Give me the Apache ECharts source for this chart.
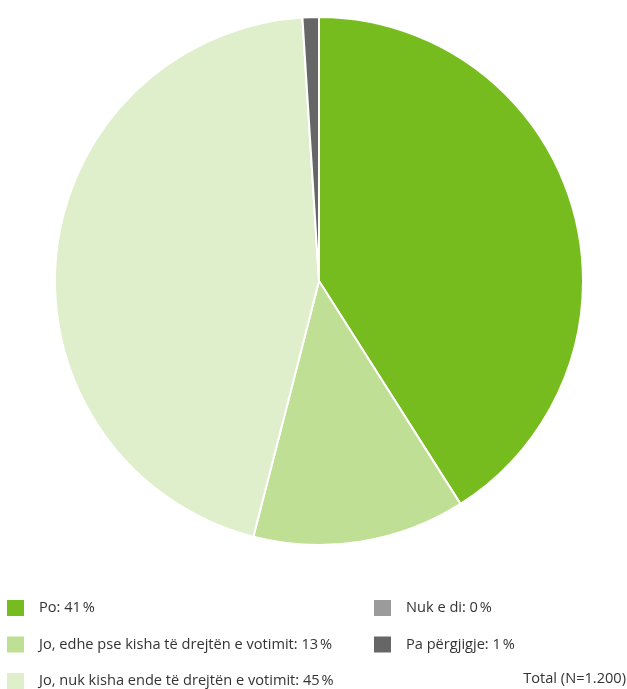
<!DOCTYPE html>
<html><head><meta charset="utf-8">
<script src="https://cdn.jsdelivr.net/npm/echarts@6/dist/echarts.min.js"></script>
<style>html,body{margin:0;padding:0;background:#fff}#c{width:627px;height:689px}</style>
</head><body><div id="c"></div>
<script>
const categories = ['Po', 'Jo, edhe pse kisha të drejtën e votimit', 'Jo, nuk kisha ende të drejtën e votimit', 'Nuk e di', 'Pa përgjigje'];
const values = [41, 13, 45, 0, 1];
const colors = ['#77BC1F', '#BEDF94', '#DFEECB', '#9B9B9B', '#666666'];
const totalLabel = 'Total (N=1.200)';

const data = categories.map((n, i) => ({ name: n, value: values[i], itemStyle: { color: colors[i] } }));
const valOf = {};
categories.forEach((n, i) => valOf[n] = values[i]);
const fmt = n => n + ': ' + valOf[n] + '\u202F%';
const legendText = { fontFamily: 'Open Sans', fontSize: 14.6, color: '#333', padding: [0, 0, 0, 9] };

const chart = echarts.init(document.getElementById('c'), null, { renderer: 'canvas' });
chart.setOption({
  animation: false,
  legend: [
    { data: categories.slice(0, 3), orient: 'vertical', left: 5, top: 598, height: 150, itemWidth: 19, itemHeight: 18, itemGap: 16.5, icon: 'rect', selectedMode: false, formatter: fmt, textStyle: legendText, padding: 0 },
    { data: categories.slice(3), orient: 'vertical', left: 372, top: 598, height: 150, itemWidth: 19, itemHeight: 18, itemGap: 16.5, icon: 'rect', selectedMode: false, formatter: fmt, textStyle: legendText, padding: 0 }
  ],
  graphic: [{ type: 'text', right: 1, top: 671, style: { text: totalLabel, fontFamily: 'Open Sans', fontSize: 14.6, fill: '#333' } }],
  series: [{
    type: 'pie', center: [319, 281], radius: [0, 264], startAngle: 90, clockwise: true,
    label: { show: false }, labelLine: { show: false }, silent: true,
    itemStyle: { borderColor: '#fff', borderWidth: 2 },
    data: data
  }]
});
</script></body></html>
